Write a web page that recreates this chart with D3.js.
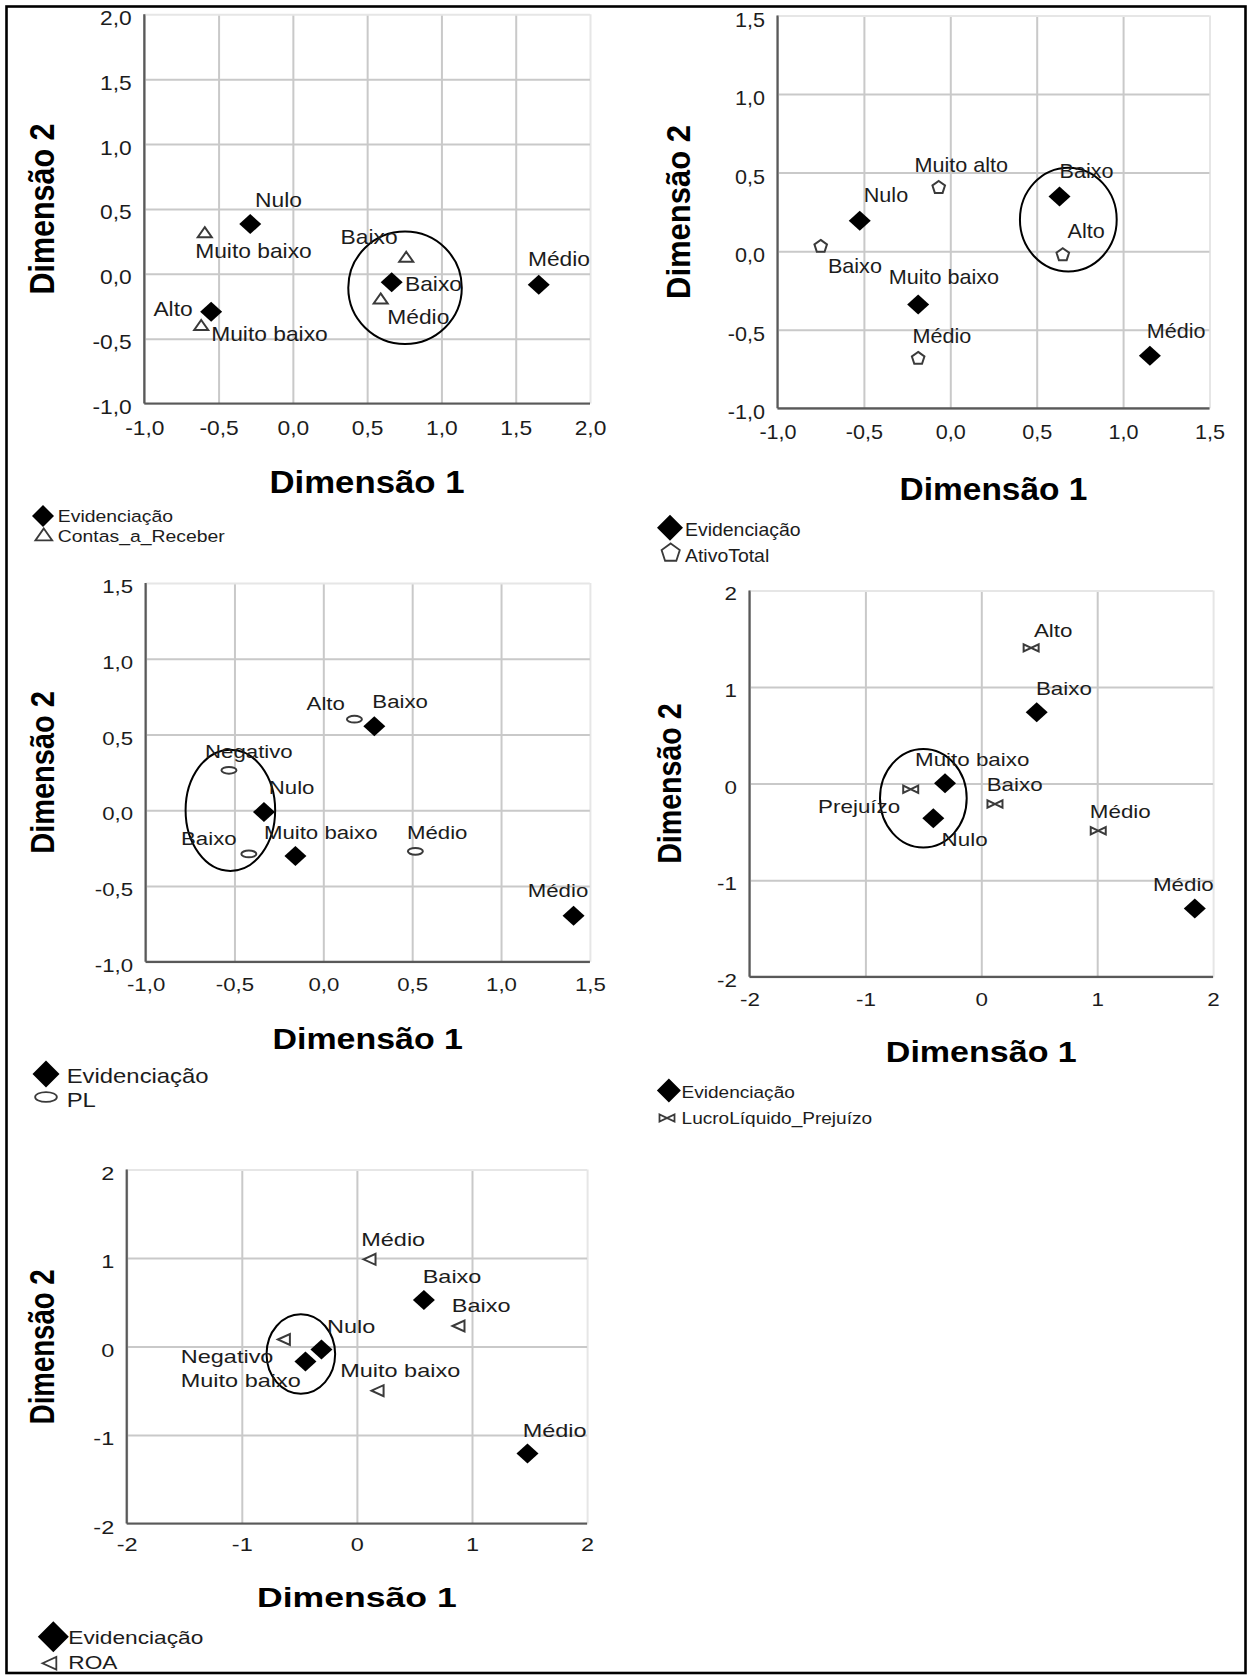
<!DOCTYPE html>
<html><head><meta charset="utf-8">
<script src="https://cdn.jsdelivr.net/npm/d3@7"></script>
<style>
body{margin:0;background:#fff}
svg{display:block}
text{font-family:"Liberation Sans",Arial,Helvetica,sans-serif}
</style>
</head><body>
<svg id="c" width="1249" height="1675"></svg>
<script>
// ---------------- DATA ----------------
const evidName = "Evidenciação";
const evidCats = ["Nulo","Muito baixo","Baixo","Médio"];

// Panel 1: Contas_a_Receber
const p1XTicks = [-1,-0.5,0,0.5,1,1.5,2];
const p1YTicks = [-1,-0.5,0,0.5,1,1.5,2];
const p1EvidX = [-0.287,-0.550,0.665,1.655];
const p1EvidY = [0.383,-0.292,-0.066,-0.085];
const p1VarName = "Contas_a_Receber";
const p1VarCats = ["Muito baixo","Alto","Baixo","Médio"];
const p1VarX = [-0.593,-0.617,0.763,0.591];
const p1VarY = [0.317,-0.399,0.127,-0.194];
const p1Ring = [0.755,-0.108,0.382,0.433];

// Panel 2: AtivoTotal
const p2XTicks = [-1,-0.5,0,0.5,1,1.5];
const p2YTicks = [-1,-0.5,0,0.5,1,1.5];
const p2EvidX = [-0.524,-0.186,0.632,1.155];
const p2EvidY = [0.194,-0.339,0.348,-0.665];
const p2VarName = "AtivoTotal";
const p2VarCats = ["Muito alto","Baixo","Alto","Médio"];
const p2VarX = [-0.067,-0.750,0.651,-0.186];
const p2VarY = [0.405,0.030,-0.023,-0.683];
const p2Ring = [0.683,0.201,0.28,0.33];

// Panel 3: PL
const p3XTicks = [-1,-0.5,0,0.5,1,1.5];
const p3YTicks = [-1,-0.5,0,0.5,1,1.5];
const p3EvidX = [-0.334,-0.157,0.287,1.408];
const p3EvidY = [-0.012,-0.302,0.554,-0.696];
const p3VarName = "PL";
const p3VarCats = ["Alto","Negativo","Baixo","Médio"];
const p3VarX = [0.175,-0.531,-0.419,0.518];
const p3VarY = [0.601,0.264,-0.288,-0.271];
const p3Ring = [-0.523,0.0,0.252,0.40];

// Panel 4: LucroLíquido_Prejuízo
const p4XTicks = [-2,-1,0,1,2];
const p4YTicks = [-2,-1,0,1,2];
const p4EvidX = [-0.414,-0.313,0.478,1.842];
const p4EvidY = [-0.359,0.003,0.739,-1.294];
const p4VarName = "LucroLíquido_Prejuízo";
const p4VarCats = ["Alto","Prejuízo","Baixo","Médio"];
const p4VarX = [0.430,-0.609,0.118,1.009];
const p4VarY = [1.405,-0.059,-0.211,-0.488];
const p4Ring = [-0.50,-0.152,0.374,0.51];

// Panel 5: ROA
const p5XTicks = [-2,-1,0,1,2];
const p5YTicks = [-2,-1,0,1,2];
const p5EvidX = [-0.308,-0.447,0.582,1.482];
const p5EvidY = [-0.032,-0.168,0.527,-1.210];
const p5VarName = "ROA";
const p5VarCats = ["Médio","Baixo","Negativo","Muito baixo"];
const p5VarX = [0.114,0.887,-0.630,0.184];
const p5VarY = [0.986,0.232,0.080,-0.499];
const p5Ring = [-0.487,-0.085,0.298,0.449];

// ---------------- LABEL PLACEMENT (px offsets from marker) ----------------
const p1EvidLab = [[4.8,-17.1],[0,29.3],[13.3,8.7],[-10.8,-18.9]];
const p1VarLab  = [[-9.6,25],[-47.8,-9.6],[-65.6,-13],[6.6,25]];
const p2EvidLab = [[4,-18.2],[-29.5,-20.4],[0,-18.9],[-3.2,-17.9]];
const p2VarLab  = [[-24.3,-15.4],[7.2,26.8],[4.8,-16.4],[-5.6,-15.4]];
const p3EvidLab = [[4.8,-17.9],[-31.5,-17.1],[-2,-18.6],[-45.8,-18.9]];
const p3VarLab  = [[-47.8,-9.6],[-23.9,-11.8],[-67.8,-8.6],[-8.4,-12.5]];
const p4EvidLab = [[8.3,27.3],[-30,-17.3],[-0.8,-17.1],[-41.9,-17.9]];
const p4VarLab  = [[2.8,-10.7],[-92.6,23.3],[-8.3,-13.3],[-8.4,-12.5]];
const p5EvidLab = [[5.6,-15.9],[-124.7,25.8],[-1.2,-17],[-4.8,-17]];
const p5VarLab  = [[-8.8,-13.5],[-7.2,-13.8],[-103.6,24],[-37.9,-13.5]];

// ---------------- LAYOUT ----------------
const loc = d3.formatLocale({decimal:",", thousands:".", grouping:[3], currency:["",""], minus:"-"});
const fmt1 = loc.format(".1f"), fmt0 = loc.format("d");

const panels = [
 {xt:p1XTicks, yt:p1YTicks, ex:p1EvidX, ey:p1EvidY, vn:p1VarName, vc:p1VarCats, vx:p1VarX, vy:p1VarY, ring:p1Ring, el:p1EvidLab, vl:p1VarLab,
  fmt:fmt1, X:[144.3,590], Y:[403.5,14.3], sx:1.14, fs:20, tfs:30.5, lgfs:17, xtDy:31.5, ytDy:10,
  xTitle:[367,492.7], yTitle:[53.8,209], lgD:[43,516], lgDs:11, lgT1:[57.8,521.7], lgM:[43.8,535], lgT2:[57.8,541.7], mk:"triUp", lgScale:1.2},
 {xt:p2XTicks, yt:p2YTicks, ex:p2EvidX, ey:p2EvidY, vn:p2VarName, vc:p2VarCats, vx:p2VarX, vy:p2VarY, ring:p2Ring, el:p2EvidLab, vl:p2VarLab,
  fmt:fmt1, X:[777.5,1209.5], Y:[408.3,15.5], sx:1.08, fs:20, tfs:31, lgfs:18, xtDy:31, ytDy:10.5,
  xTitle:[993.5,499.5], yTitle:[690,212], lgD:[670,527.7], lgDs:13, lgT1:[685,536], lgM:[670.7,553], lgT2:[685,562.3], mk:"pent", lgScale:1.45},
 {xt:p3XTicks, yt:p3YTicks, ex:p3EvidX, ey:p3EvidY, vn:p3VarName, vc:p3VarCats, vx:p3VarX, vy:p3VarY, ring:p3Ring, el:p3EvidLab, vl:p3VarLab,
  fmt:fmt1, X:[145.6,589.9], Y:[961.8,583], sx:1.17, fs:19, tfs:29, lgfs:20.4, xtDy:29, ytDy:9.5,
  xTitle:[367.7,1048.5], yTitle:[53.8,772.4], lgD:[46,1074], lgDs:13.5, lgT1:[66.7,1082.7], lgM:[46,1097], lgT2:[66.7,1106.7], mk:"ell", lgScale:1.45},
 {xt:p4XTicks, yt:p4YTicks, ex:p4EvidX, ey:p4EvidY, vn:p4VarName, vc:p4VarCats, vx:p4VarX, vy:p4VarY, ring:p4Ring, el:p4EvidLab, vl:p4VarLab,
  fmt:fmt0, X:[749.5,1213.1], Y:[976.8,590.4], sx:1.19, fs:18.8, tfs:28.6, lgfs:16, xtDy:29.6, ytDy:9.5,
  xTitle:[981.3,1062], yTitle:[680.8,783.6], lgD:[668.9,1090.4], lgDs:12, lgT1:[681.6,1097.5], lgM:[667,1118], lgT2:[681.6,1124], mk:"bow", lgScale:1.0},
 {xt:p5XTicks, yt:p5YTicks, ex:p5EvidX, ey:p5EvidY, vn:p5VarName, vc:p5VarCats, vx:p5VarX, vy:p5VarY, ring:p5Ring, el:p5EvidLab, vl:p5VarLab,
  fmt:fmt0, X:[126.7,587.1], Y:[1523.5,1169.6], sx:1.29, fs:18.2, tfs:27.6, lgfs:17.6, xtDy:27, ytDy:9.5,
  xTitle:[356.9,1607], yTitle:[53.8,1346.8], lgD:[53.3,1636.7], lgDs:15.5, lgT1:[68.3,1644], lgM:[50,1663.3], lgT2:[68.3,1669], mk:"triLeft", lgScale:1.15}
];

// ---------------- MARKERS ----------------
function diamondPath(w,h){ return `M0,${-h}L${w},0L0,${h}L${-w},0Z`; }
const markerPaths = {
  triUp:  s => `M0,${-5.5*s}L${7*s},${4.5*s}L${-7*s},${4.5*s}Z`,
  pent:   s => { const p=d3.path(); for(let k=0;k<5;k++){const a=-Math.PI/2+k*2*Math.PI/5; const px=6.6*s*Math.cos(a), py=6.6*s*Math.sin(a); k?p.lineTo(px,py):p.moveTo(px,py);} p.closePath(); return p.toString(); },
  ell:    s => { const rx=7.5*s, ry=3.4*s; return `M${-rx},0A${rx},${ry} 0 1,0 ${rx},0A${rx},${ry} 0 1,0 ${-rx},0Z`; },
  bow:    s => `M${-7.5*s},${-3.6*s}L${-7.5*s},${3.6*s}L${7.5*s},${-3.6*s}L${7.5*s},${3.6*s}Z`,
  triLeft:s => `M${-6.5*s},0L${5.5*s},${-5.5*s}L${5.5*s},${5.5*s}Z`
};

const svg = d3.select("#c");
svg.append("rect").attr("width",1249).attr("height",1675).attr("fill","#fff");

function stext(g, x, y, s, size, sx, anchor, weight, fill){
  return g.append("text")
    .attr("transform", `translate(${x},${y}) scale(${sx},1)`)
    .attr("text-anchor", anchor||"start")
    .attr("font-size", size)
    .attr("font-weight", weight||"normal")
    .attr("fill", fill||"#1c1c1c")
    .text(s);
}

panels.forEach(P => {
  const g = svg.append("g");
  const x = d3.scaleLinear().domain(d3.extent(P.xt)).range(P.X);
  const y = d3.scaleLinear().domain(d3.extent(P.yt)).range(P.Y);
  const H = P.Y[0]-P.Y[1], W = P.X[1]-P.X[0];
  const xMax = d3.max(P.xt), yMax = d3.max(P.yt);

  // grid via axes
  const gx = g.append("g").attr("transform",`translate(0,${P.Y[0]})`)
    .call(d3.axisBottom(x).tickValues(P.xt).tickSize(-H).tickFormat(""));
  const gy = g.append("g").attr("transform",`translate(${P.X[0]},0)`)
    .call(d3.axisLeft(y).tickValues(P.yt).tickSize(-W).tickFormat(""));
  [gx,gy].forEach(a => { a.select(".domain").remove(); });
  gx.selectAll(".tick line").attr("stroke", d => d===xMax ? "#e6e6e6" : "#c9c9c9").attr("stroke-width",2);
  gy.selectAll(".tick line").attr("stroke", d => d===yMax ? "#e6e6e6" : "#c9c9c9").attr("stroke-width",2);

  // axis lines
  g.append("line").attr("x1",P.X[0]).attr("x2",P.X[1]).attr("y1",y.range()[0]).attr("y2",y.range()[0])
    .attr("stroke","#595959").attr("stroke-width",2.2);
  g.append("line").attr("x1",P.X[0]).attr("x2",P.X[0]).attr("y1",P.Y[0]).attr("y2",P.Y[1])
    .attr("stroke","#595959").attr("stroke-width",2.2);

  // tick labels via axes
  const lx = g.append("g").attr("transform",`translate(0,${P.Y[0]})`)
    .call(d3.axisBottom(x).tickValues(P.xt).tickSize(0).tickFormat(P.fmt));
  lx.select(".domain").remove();
  lx.selectAll("text").attr("y",null).attr("dy",null)
    .attr("transform",`translate(0,${P.xtDy}) scale(${P.sx},1)`)
    .attr("font-size",P.fs).attr("font-family",null).attr("fill","#1c1c1c").attr("text-anchor","middle");
  const ly = g.append("g").attr("transform",`translate(${P.X[0]},0)`)
    .call(d3.axisLeft(y).tickValues(P.yt).tickSize(0).tickFormat(P.fmt));
  ly.select(".domain").remove();
  ly.selectAll("text").attr("x",null).attr("dy",null)
    .attr("transform",`translate(-12.5,${P.ytDy}) scale(${P.sx},1)`)
    .attr("font-size",P.fs).attr("font-family",null).attr("fill","#1c1c1c").attr("text-anchor","end");

  // annotation ring
  const [cx,cy,rx,ry] = P.ring;
  g.append("ellipse").attr("cx",x(cx)).attr("cy",y(cy))
    .attr("rx",x(cx+rx)-x(cx)).attr("ry",y(cy)-y(cy+ry))
    .attr("fill","none").attr("stroke","#000").attr("stroke-width",2);

  // second variable markers
  P.vc.forEach((c,i) => {
    g.append("path").attr("d", markerPaths[P.mk](1))
      .attr("transform",`translate(${x(P.vx[i])},${y(P.vy[i])})`)
      .attr("fill","#fff").attr("stroke","#3a3a3a").attr("stroke-width",2);
  });
  // evidenciação markers
  evidCats.forEach((c,i) => {
    g.append("path").attr("d", diamondPath(11,10))
      .attr("transform",`translate(${x(P.ex[i])},${y(P.ey[i])})`)
      .attr("fill","#000");
  });
  // point labels
  P.vc.forEach((c,i) => {
    stext(g, x(P.vx[i])+P.vl[i][0], y(P.vy[i])+P.vl[i][1], c, P.fs, P.sx);
  });
  evidCats.forEach((c,i) => {
    stext(g, x(P.ex[i])+P.el[i][0], y(P.ey[i])+P.el[i][1], c, P.fs, P.sx);
  });

  // axis titles
  stext(g, P.xTitle[0], P.xTitle[1], "Dimensão 1", P.tfs, P.sx, "middle", "bold", "#000");
  g.append("text")
    .attr("transform",`translate(${P.yTitle[0]},${P.yTitle[1]}) rotate(-90) scale(1,${P.sx})`)
    .attr("text-anchor","middle").attr("font-size",P.tfs).attr("font-weight","bold").attr("fill","#000")
    .text("Dimensão 2");

  // legend
  g.append("path").attr("d", diamondPath(P.lgDs, P.lgDs))
    .attr("transform",`translate(${P.lgD[0]},${P.lgD[1]})`).attr("fill","#000");
  stext(g, P.lgT1[0], P.lgT1[1], evidName, P.lgfs, P.sx);
  g.append("path").attr("d", markerPaths[P.mk](P.lgScale))
    .attr("transform",`translate(${P.lgM[0]},${P.lgM[1]})`)
    .attr("fill","#fff").attr("stroke","#3a3a3a").attr("stroke-width",1.8);
  stext(g, P.lgT2[0], P.lgT2[1], P.vn, P.lgfs, P.sx);
});

// outer frame
svg.append("rect").attr("x",6.5).attr("y",6.5).attr("width",1239).attr("height",1666.5)
  .attr("fill","none").attr("stroke","#000").attr("stroke-width",2.6);
</script>
</body></html>
